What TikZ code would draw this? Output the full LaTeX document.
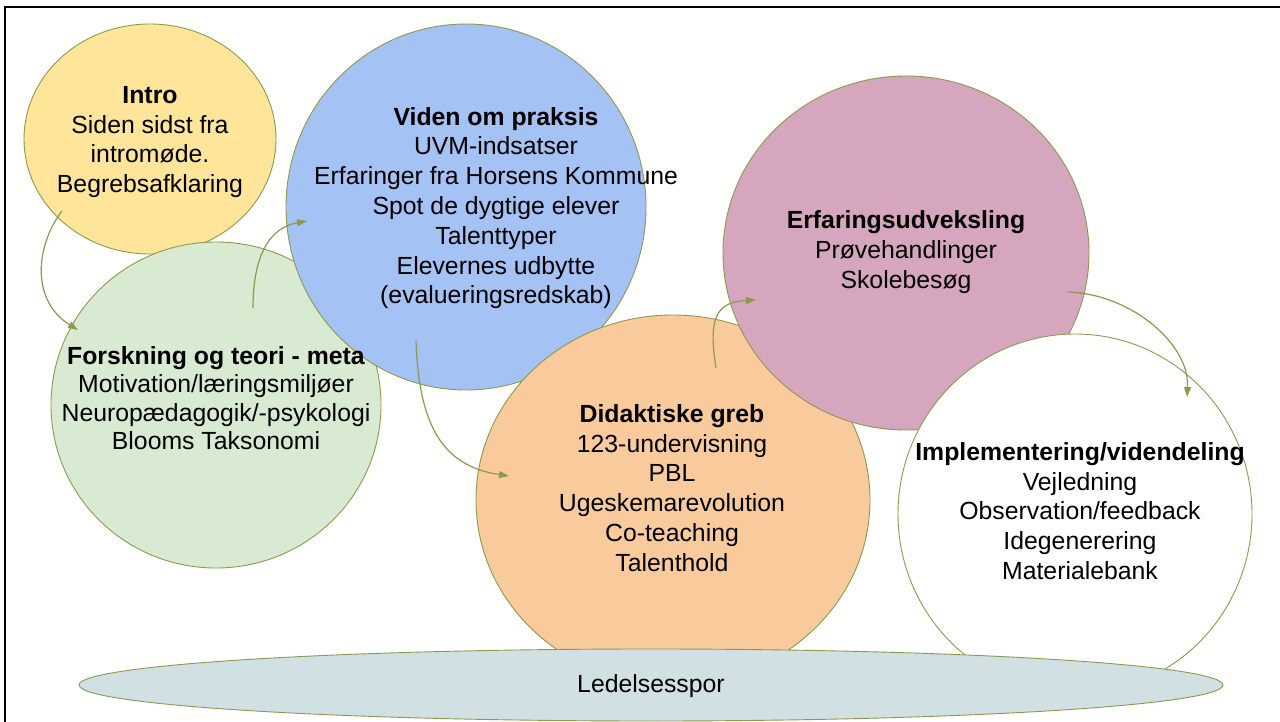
\documentclass[tikz,border=0pt]{standalone}
\usepackage{fontspec}
\setmainfont{Liberation Sans}
\usetikzlibrary{shapes.geometric,arrows.meta}
\definecolor{edgeol}{RGB}{140,154,78}
\definecolor{cyellow}{HTML}{FFE599}
\definecolor{cgreen}{HTML}{D9EAD3}
\definecolor{cblue}{HTML}{A4C2F4}
\definecolor{corange}{HTML}{F9CB9C}
\definecolor{cpink}{HTML}{D5A6BD}
\definecolor{ccyan}{HTML}{D0E0E3}
\begin{document}
\begin{tikzpicture}[x=1pt,y=-1pt,
  bub/.style={ellipse, draw=edgeol, line width=0.9pt, inner sep=0pt},
  txt/.style={align=center, font=\fontsize{24.8}{29.8}\selectfont, inner sep=0pt},
  flow/.style={draw=edgeol, line width=1.2pt, -{Triangle[length=10pt,width=7pt]}}]
\useasboundingbox (0,0) rectangle (1280,722);
\fill[white] (0,0) rectangle (1280,722);
\draw[line width=2pt] (5,722) -- (5,7) -- (1280,7);

\node[bub, fill=cyellow, minimum width=252pt, minimum height=230pt] (intro) at (150,139) {};
\node[bub, fill=cgreen, minimum width=330pt, minimum height=326pt] (forsk) at (216,405) {};
\node[bub, fill=cblue, minimum width=360pt, minimum height=366pt] (viden) at (466,207) {};
\node[bub, fill=corange, minimum width=394pt, minimum height=370pt] (didak) at (673,500) {};
\node[bub, fill=cpink, minimum width=366pt, minimum height=354pt] (erfar) at (906,253) {};
\node[bub, fill=white, minimum width=354pt, minimum height=360pt] (impl) at (1075,514) {};
\node[bub, fill=ccyan, minimum width=1144pt, minimum height=72pt] (ledel) at (651,685) {};

\node[txt] (tintro) at (150,142) {\textbf{Intro}\\Siden sidst fra\\intromøde.\\Begrebsafklaring};
\node[txt, font=\fontsize{24.8}{28.4}\selectfont] (tforsk) at (216,398) {\textbf{Forskning og teori - meta}\\Motivation/læringsmiljøer\\Neuropædagogik/-psykologi\\Blooms Taksonomi};
\node[txt] (tviden) at (496,208) {\textbf{Viden om praksis}\\UVM-indsatser\\Erfaringer fra Horsens Kommune\\Spot de dygtige elever\\Talenttyper\\Elevernes udbytte\\(evalueringsredskab)};
\node[txt] (tdidak) at (672,488) {\textbf{Didaktiske greb}\\123-undervisning\\PBL\\Ugeskemarevolution\\Co-teaching\\Talenthold};
\node[txt] (terfar) at (906,252) {\textbf{Erfaringsudveksling}\\Prøvehandlinger\\Skolebesøg};
\node[txt] (timpl) at (1080,511) {\textbf{Implementering/videndeling}\\Vejledning\\Observation/feedback\\Idegenerering\\Materialebank};
\node[txt, font=\fontsize{24.8}{29}\selectfont] (tledel) at (651,686) {Ledelsesspor};

\coordinate (a1s) at (62,211);  \coordinate (a1e) at (78,330);
\coordinate (a2s) at (253,308); \coordinate (a2e) at (307,221);
\coordinate (a3s) at (416,341); \coordinate (a3e) at (509,476);
\coordinate (a4s) at (716,368); \coordinate (a4e) at (756,300);
\coordinate (a5s) at (1068,292); \coordinate (a5e) at (1187,397);
\draw[flow] (a1s) .. controls (36,245) and (30,300) .. (a1e);
\draw[flow] (a2s) .. controls (253,258) and (268,228) .. (a2e);
\draw[flow] (a3s) .. controls (419,425) and (442,466) .. (a3e);
\draw[flow] (a4s) .. controls (708,318) and (716,302) .. (a4e);
\draw[flow] (a5s) .. controls (1132,294) and (1190,345) .. (a5e);
\end{tikzpicture}
\end{document}
